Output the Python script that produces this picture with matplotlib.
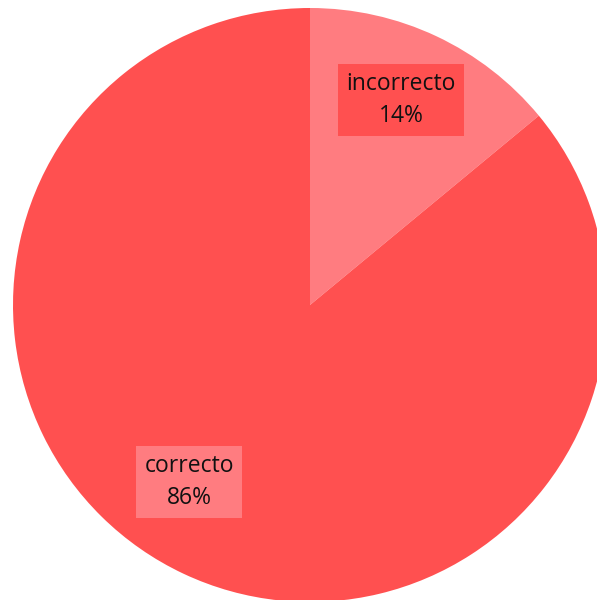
import matplotlib
matplotlib.use("Agg")
import matplotlib.pyplot as plt

categories = ["incorrecto", "correcto"]
values = [14, 86]
slice_colors = ["#FF7C80", "#FF5050"]
label_box_colors = ["#FF5050", "#FF7C80"]

fig = plt.figure(figsize=(5.97, 6.0), dpi=100)
ax = fig.add_axes([0, 0, 1, 1])

ax.pie(values, colors=slice_colors, startangle=90, counterclock=False,
       center=(310, 295), radius=297, frame=True,
       wedgeprops=dict(linewidth=0))
ax.set_xlim(0, 597)
ax.set_ylim(0, 600)
ax.set_aspect("equal")
ax.axis("off")

label_positions = [(401, 500), (189, 118)]
total = sum(values)
for cat, val, pos, bc in zip(categories, values, label_positions, label_box_colors):
    ax.text(pos[0], pos[1], f"{cat}\n{round(100 * val / total)}%",
            ha="center", va="center", fontsize=16.5, family="Open Sans",
            linespacing=1.42, color="#111111",
            bbox=dict(boxstyle="square,pad=0.38", facecolor=bc, edgecolor="none"))

fig.savefig("out.png", dpi=100)
